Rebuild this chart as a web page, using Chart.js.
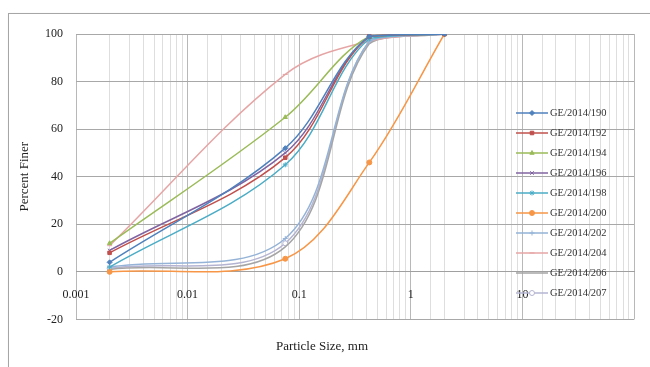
<!DOCTYPE html>
<html>
<head>
<meta charset="utf-8">
<script src="https://cdn.jsdelivr.net/npm/chart.js@4/dist/chart.umd.min.js"></script>
<style>
  body { margin: 0; background: #fff; }
  #wrap { position: relative; width: 650px; height: 367px; overflow: hidden; }
  #frame { position: absolute; left: 8px; top: 13px; width: 700px; height: 400px; border: 1px solid #a6a6a6; box-shadow: 1px 1px 2px #ccc; }
  canvas { position: absolute; left: 0; top: 0; }
</style>
</head>
<body>
<div id="wrap">
  <div id="frame"></div>
  <canvas id="grading" width="650" height="367"></canvas>
</div>
<script>
// particle sizes (mm) at which percent finer was measured
var sizes = [0.002, 0.075, 0.425, 2];

var labels = ['GE/2014/190', 'GE/2014/192', 'GE/2014/194', 'GE/2014/196', 'GE/2014/198',
              'GE/2014/200', 'GE/2014/202', 'GE/2014/204', 'GE/2014/206', 'GE/2014/207'];

var ge190 = [4, 52, 99, 100];
var ge192 = [8, 48, 99, 100];
var ge194 = [12, 65, 99, 100];
var ge196 = [9, 50, 99, 100];
var ge198 = [2, 45, 98, 100];
var ge200 = [0, 5.5, 46, 100];
var ge202 = [2, 14, 97, 100];
var ge204 = [11, 83, 97, 100];
var ge206 = [1, 10.5, 96, 100];
var ge207 = [1.5, 12, 97, 100];

var yTicks = [-20, 0, 20, 40, 60, 80, 100];

var series = [ge190, ge192, ge194, ge196, ge198, ge200, ge202, ge204, ge206, ge207];
var colors = ['#4F81BD', '#C0504D', '#9BBB59', '#8064A2', '#4BACC6',
              '#F79646', '#95B3D7', '#E6A5A5', '#A5A5A5', '#B4B4D2'];
var markers = ['rectRot', 'rect', 'triangle', 'crossRot', 'star',
               'circle', 'cross', 'line', false, 'circle'];

var SERIF = '"Liberation Serif", "DejaVu Serif", serif';

function points(vals){
  return vals.map(function(v, i){ return {x: sizes[i], y: v}; });
}

var datasets = series.map(function(vals, i){
  return {
    label: labels[i],
    data: points(vals),
    borderColor: colors[i],
    backgroundColor: colors[i],
    borderWidth: 1.5,
    pointStyle: markers[i],
    pointRadius: markers[i] ? 2.5 : 0,
    pointBorderWidth: 1,
    pointBackgroundColor: i == 9 ? '#fff' : colors[i],
    tension: 0.35,
    fill: false
  };
});

// legend drawn over the plot, as in the source chart
var overlayLegend = {
  id: 'overlayLegend',
  afterDraw: function(chart){
    var ctx = chart.ctx;
    var area = chart.chartArea;
    var x0 = area.right - 118;
    ctx.save();
    ctx.font = '10.5px ' + SERIF;
    ctx.textBaseline = 'middle';
    chart.data.datasets.forEach(function(ds, i){
      var y = area.top + 79 + i * 20;
      ctx.strokeStyle = ds.borderColor;
      ctx.lineWidth = 1.5;
      ctx.beginPath();
      ctx.moveTo(x0, y);
      ctx.lineTo(x0 + 32, y);
      ctx.stroke();
      if (ds.pointStyle) {
        ctx.fillStyle = ds.pointBackgroundColor;
        ctx.lineWidth = 1;
        Chart.helpers.drawPoint(ctx, {pointStyle: ds.pointStyle, radius: 2.5, rotation: 0, borderWidth: 1}, x0 + 16, y);
      }
      ctx.fillStyle = '#333';
      ctx.fillText(ds.label, x0 + 34, y);
    });
    ctx.restore();
  }
};

var ctx = document.getElementById('grading');
var myChart = new Chart(ctx, {
  type: 'line',
  data: { datasets: datasets },
  plugins: [overlayLegend],
  options: {
    responsive: false,
    animation: false,
    layout: { padding: { left: 8, right: 14, top: 34, bottom: 8 } },
    plugins: {
      legend: { display: false },
      tooltip: { enabled: false },
      title: {
        display: true,
        position: 'bottom',
        text: 'Particle Size, mm',
        color: '#222',
        font: { family: SERIF, size: 13, weight: 'normal' },
        padding: { top: 19, bottom: 5 }
      }
    },
    scales: {
      x: {
        type: 'logarithmic',
        position: { y: 0 },
        min: 0.001,
        max: 100,
        border: { color: '#a0a0a0' },
        grid: {
          drawTicks: false,
          color: function(c){ return c.tick && c.tick.major ? '#b8b8b8' : '#dedede'; }
        },
        ticks: {
          autoSkip: false,
          maxRotation: 0,
          padding: 16,
          color: '#222',
          font: { family: SERIF, size: 12 },
          callback: function(v){
            var e = Math.log10(v);
            if (Math.abs(e - Math.round(e)) > 1e-9 || v >= 100) return '';
            return String(v);
          }
        }
      },
      y: {
        min: -20,
        max: 100,
        afterBuildTicks: function(s){ s.ticks = yTicks.map(function(v){ return {value: v}; }); },
        afterFit: function(s){ s.width = 68; },
        border: { display: false },
        grid: { drawTicks: false, color: '#a8a8a8' },
        ticks: {
          padding: 13,
          color: '#222',
          font: { family: SERIF, size: 12 }
        },
        title: {
          display: true,
          text: 'Percent Finer',
          color: '#222',
          font: { family: SERIF, size: 13 },
          padding: { top: 9, bottom: 0 }
        }
      }
    }
  }
});
</script>
</body>
</html>
